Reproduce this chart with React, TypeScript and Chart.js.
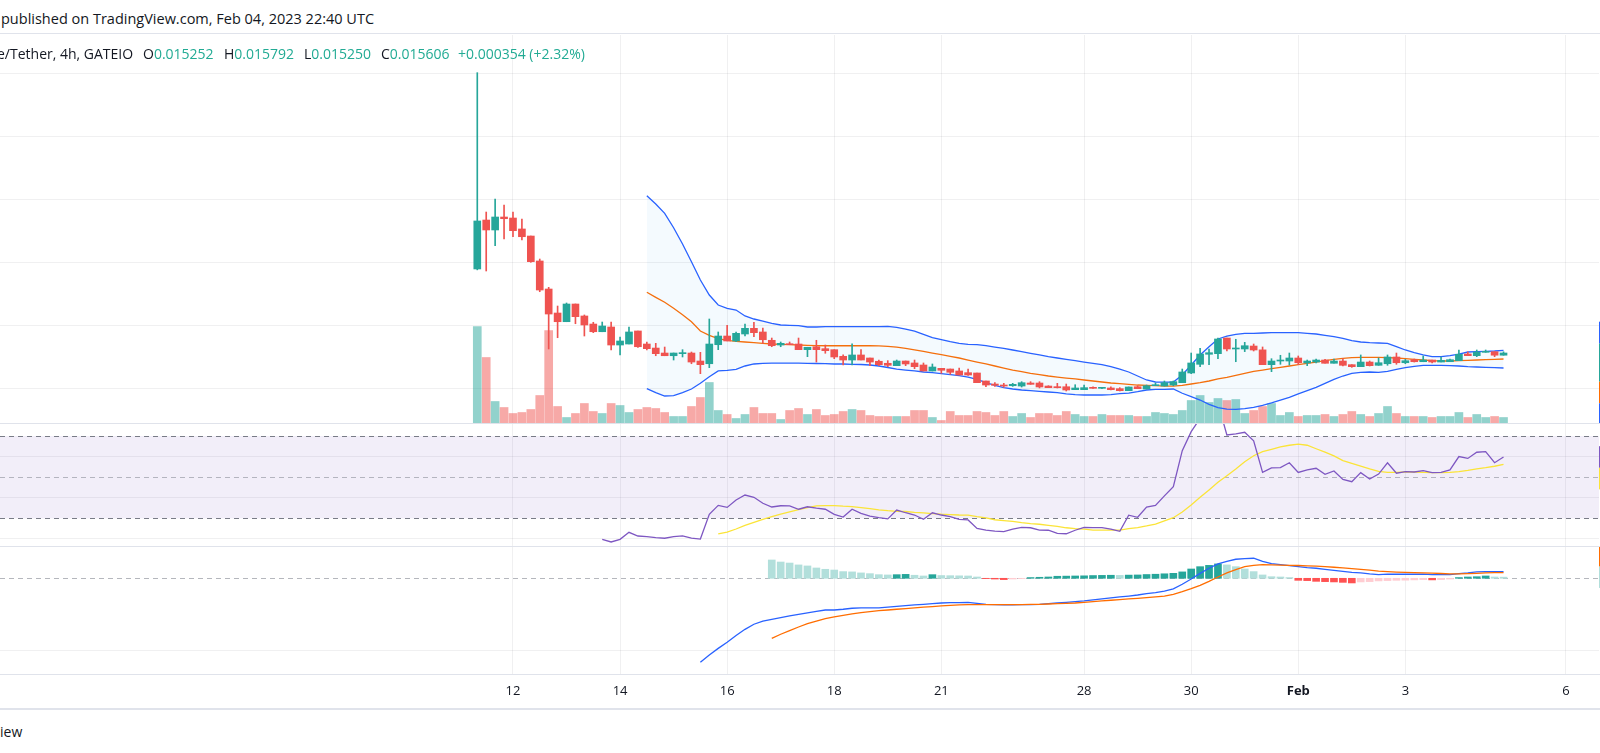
import React, { useEffect, useRef } from "react";
import { Chart, registerables } from "chart.js";

Chart.register(...registerables);

const FONT = "'Open Sans', Roboto, 'Noto Sans', sans-serif";
const TEXT = "#131722";
const UP = "#26a69a";
const DOWN = "#ef5350";
const GRID = "rgba(42,46,57,0.07)";
const SEP = "#e0e3eb";
const LINE_W = 1.3;
const MA_YELLOW = "#fbe438";

// ---------- price candles (4h bars, index 0 = first bar) ----------
const opens = [0.02894,0.03671,0.03513,0.03719,0.03703,0.03529,0.03417,0.03021,0.02576,0.02195,
0.02057,0.02338,0.02148,0.02020,0.01898,0.01973,0.01687,0.01703,0.01910,0.01703,
0.01639,0.01560,0.01517,0.01550,0.01560,0.01433,0.01390,0.01692,0.01830,0.01751,
0.01862,0.01952,0.01894,0.01762,0.01687,0.01703,0.01703,0.01613,0.01660,0.01629,
0.01613,0.01508,0.01449,0.01529,0.01481,0.01429,0.01397,0.01359,0.01433,0.01402,
0.01370,0.01275,0.01317,0.01306,0.01275,0.01248,0.01243,0.01116,0.01068,0.01052,
0.01041,0.01036,0.01084,0.01084,0.01036,0.01020,0.01025,0.00978,0.00978,0.01010,
0.01000,0.01005,0.00994,0.00962,0.01025,0.00989,0.01041,0.01036,0.01052,0.01089,
0.01243,0.01381,0.01540,0.01550,0.01798,0.01624,0.01624,0.01671,0.01610,0.01375,
0.01433,0.01433,0.01481,0.01402,0.01417,0.01449,0.01397,0.01433,0.01375,0.01343,
0.01417,0.01365,0.01390,0.01497,0.01406,0.01454,0.01422,0.01449,0.01417,0.01422,
0.01438,0.01545,0.01518,0.01571,0.01581,0.015252];

const highs = [0.06010,0.03798,0.04005,0.03910,0.03798,0.03687,0.03417,0.03052,0.02603,0.02306,
0.02354,0.02338,0.02164,0.02048,0.02052,0.02052,0.01814,0.01973,0.01910,0.01735,
0.01714,0.01655,0.01560,0.01613,0.01576,0.01571,0.02100,0.01894,0.02000,0.01894,
0.02020,0.02048,0.01957,0.01798,0.01735,0.01735,0.01798,0.01651,0.01762,0.01687,
0.01613,0.01533,0.01704,0.01613,0.01481,0.01449,0.01439,0.01449,0.01433,0.01449,
0.01402,0.01386,0.01317,0.01306,0.01322,0.01306,0.01243,0.01116,0.01089,0.01079,
0.01079,0.01105,0.01105,0.01105,0.01041,0.01079,0.01068,0.01057,0.01052,0.01025,
0.01016,0.01025,0.01010,0.01021,0.01041,0.01052,0.01084,0.01116,0.01116,0.01306,
0.01560,0.01635,0.01624,0.01798,0.01798,0.01778,0.01730,0.01703,0.01656,0.01470,
0.01524,0.01560,0.01513,0.01449,0.01465,0.01460,0.01465,0.01470,0.01375,0.01529,
0.01433,0.01481,0.01529,0.01560,0.01460,0.01465,0.01513,0.01449,0.01497,0.01465,
0.01608,0.01576,0.01608,0.01608,0.01581,0.015792];

const lows = [0.02880,0.02862,0.03263,0.03370,0.03406,0.03354,0.03000,0.02533,0.01624,0.01803,
0.02057,0.02025,0.01830,0.01883,0.01898,0.01608,0.01529,0.01703,0.01650,0.01608,
0.01517,0.01517,0.01449,0.01497,0.01390,0.01232,0.01327,0.01613,0.01751,0.01740,
0.01830,0.01819,0.01714,0.01660,0.01660,0.01692,0.01613,0.01502,0.01417,0.01556,
0.01470,0.01370,0.01370,0.01449,0.01359,0.01359,0.01343,0.01359,0.01359,0.01311,
0.01275,0.01275,0.01238,0.01222,0.01211,0.01206,0.01089,0.01025,0.01031,0.01016,
0.01031,0.01020,0.01063,0.01005,0.01010,0.01005,0.00957,0.00978,0.00978,0.01000,
0.00995,0.00973,0.00957,0.00962,0.00994,0.00989,0.01041,0.01036,0.01041,0.01089,
0.01232,0.01343,0.01375,0.01470,0.01592,0.01422,0.01582,0.01592,0.01375,0.01264,
0.01381,0.01370,0.01375,0.01359,0.01402,0.01397,0.01397,0.01354,0.01333,0.01343,
0.01354,0.01365,0.01365,0.01381,0.01390,0.01417,0.01422,0.01402,0.01417,0.01422,
0.01438,0.01518,0.01502,0.01571,0.01502,0.015250];

const closes = [0.03656,0.03513,0.03719,0.03692,0.03502,0.03406,0.03010,0.02560,0.02179,0.02057,
0.02338,0.02137,0.02005,0.01898,0.01989,0.01687,0.01751,0.01894,0.01660,0.01629,
0.01550,0.01517,0.01560,0.01560,0.01417,0.01375,0.01703,0.01830,0.01751,0.01873,
0.01952,0.01883,0.01771,0.01676,0.01714,0.01692,0.01613,0.01651,0.01613,0.01597,
0.01497,0.01449,0.01529,0.01449,0.01417,0.01375,0.01365,0.01433,0.01386,0.01343,
0.01275,0.01338,0.01286,0.01254,0.01211,0.01211,0.01089,0.01052,0.01048,0.01036,
0.01063,0.01089,0.01063,0.01021,0.01010,0.01010,0.00973,0.01005,0.01010,0.01000,
0.01010,0.00978,0.00962,0.01021,0.00994,0.01041,0.01057,0.01089,0.01105,0.01259,
0.01402,0.01545,0.01565,0.01783,0.01624,0.01635,0.01676,0.01608,0.01375,0.01433,
0.01449,0.01481,0.01406,0.01433,0.01449,0.01397,0.01433,0.01365,0.01343,0.01417,
0.01359,0.01406,0.01497,0.01406,0.01438,0.01422,0.01449,0.01417,0.01444,0.01454,
0.01540,0.01518,0.01576,0.01587,0.015252,0.015606];

// volume (thousands)
const volumes = [965,655,215,155,95,105,135,275,925,165,
55,95,195,115,95,195,175,105,135,155,
145,105,65,65,165,255,405,125,85,45,
85,155,95,95,35,125,145,85,135,75,
85,115,135,125,75,65,65,65,65,125,
125,55,25,115,75,75,115,105,75,115,
65,95,55,95,95,75,115,85,65,65,
85,75,75,75,65,65,105,95,85,125,
225,275,205,245,225,235,95,125,165,195,
75,105,65,75,75,85,65,85,115,85,
65,95,165,95,65,65,65,55,65,65,
105,55,85,55,65,55];

// ---------- Bollinger Bands (20, 2), first value at bar 19 ----------
const BB_START = 19;
const bbUpper = [0.04057,0.03925,0.03778,0.03549,0.03290,0.03010,0.02719,0.02481,0.02322,0.02270,
0.02243,0.02148,0.02100,0.02068,0.02032,0.02005,0.02000,0.01994,0.01973,0.01973,
0.01978,0.01978,0.01978,0.01978,0.01978,0.01978,0.01978,0.01984,0.01968,0.01941,
0.01906,0.01857,0.01806,0.01772,0.01740,0.01714,0.01698,0.01692,0.01676,0.01655,
0.01635,0.01608,0.01581,0.01556,0.01529,0.01502,0.01481,0.01460,0.01438,0.01417,
0.01397,0.01375,0.01343,0.01306,0.01259,0.01195,0.01132,0.01100,0.01097,0.01100,
0.01211,0.01370,0.01529,0.01660,0.01783,0.01830,0.01857,0.01873,0.01873,0.01878,
0.01883,0.01883,0.01883,0.01883,0.01873,0.01862,0.01841,0.01819,0.01794,0.01756,
0.01735,0.01724,0.01719,0.01714,0.01660,0.01608,0.01565,0.01529,0.01502,0.01502,
0.01517,0.01544,0.01576,0.01581,0.01587,0.01592,0.01603];
const bbBasis = [0.02524,0.02444,0.02365,0.02270,0.02168,0.02057,0.01910,0.01841,0.01787,0.01762,
0.01746,0.01735,0.01724,0.01714,0.01703,0.01698,0.01692,0.01687,0.01682,0.01676,
0.01675,0.01675,0.01675,0.01675,0.01675,0.01675,0.01672,0.01666,0.01652,0.01633,
0.01610,0.01587,0.01560,0.01533,0.01508,0.01481,0.01449,0.01417,0.01386,0.01354,
0.01322,0.01290,0.01264,0.01238,0.01216,0.01195,0.01179,0.01163,0.01148,0.01132,
0.01116,0.01100,0.01084,0.01073,0.01063,0.01052,0.01048,0.01041,0.01036,0.01036,
0.01048,0.01068,0.01089,0.01116,0.01148,0.01175,0.01206,0.01238,0.01270,0.01290,
0.01311,0.01333,0.01354,0.01375,0.01397,0.01417,0.01438,0.01460,0.01476,0.01486,
0.01492,0.01492,0.01492,0.01486,0.01481,0.01470,0.01460,0.01449,0.01438,0.01433,
0.01433,0.01438,0.01444,0.01449,0.01454,0.01460,0.01465];
const bbLower = [0.00994,0.00930,0.00878,0.00883,0.00930,0.00989,0.01079,0.01184,0.01275,0.01286,
0.01302,0.01354,0.01386,0.01397,0.01399,0.01399,0.01399,0.01399,0.01397,0.01394,
0.01392,0.01386,0.01386,0.01381,0.01378,0.01370,0.01354,0.01330,0.01306,0.01290,
0.01275,0.01259,0.01248,0.01232,0.01216,0.01200,0.01179,0.01140,0.01089,0.01048,
0.01010,0.00989,0.00973,0.00962,0.00952,0.00941,0.00930,0.00910,0.00899,0.00894,
0.00894,0.00894,0.00899,0.00915,0.00925,0.00946,0.00973,0.00984,0.00984,0.00989,
0.00921,0.00867,0.00814,0.00746,0.00692,0.00671,0.00667,0.00676,0.00698,0.00730,
0.00767,0.00814,0.00857,0.00910,0.00962,0.01016,0.01079,0.01143,0.01195,0.01238,
0.01254,0.01259,0.01254,0.01270,0.01302,0.01327,0.01349,0.01365,0.01365,0.01365,
0.01359,0.01354,0.01343,0.01338,0.01333,0.01327,0.01322];

// ---------- RSI (14) and its MA ----------
const RSI_START = 14;
const rsiValues = [19.8,18.5,19.8,23.2,21.4,21.1,20.6,20.3,21.1,21.5,
20.4,19.9,31.9,36.3,35.3,38.9,41.3,40.2,37.3,35.5,
36.1,36.0,34.4,35.6,34.9,34.4,31.9,30.6,34.4,32.4,
31.1,30.3,29.7,34.0,32.7,31.6,29.5,32.7,31.6,30.8,
29.5,29.2,25.1,24.3,23.8,23.5,24.7,25.6,25.4,24.3,
24.2,22.7,22.5,24.2,25.6,25.5,25.5,24.7,23.7,31.5,
30.5,35.5,36.3,40.9,45.4,62.9,72.1,78.6,80.5,86.0,
70.5,71.0,71.8,67.7,52.3,54.5,54.6,57.0,52.3,53.5,
54.3,51.4,53.0,48.9,47.8,52.2,49.1,51.5,57.0,51.9,
52.7,52.5,53.2,52.2,52.3,53.5,60.0,59.1,62.1,62.4,
57.0,59.8];
const RSI_MA_START = 27;
const rsiMa = [22.4,23.3,24.8,26.6,28.0,29.5,30.8,32.0,33.1,34.2,
35.2,36.0,36.2,36.2,35.9,35.7,35.2,34.7,34.1,33.7,
33.4,33.3,32.9,32.6,32.3,32.0,31.8,31.6,31.5,30.8,
30.2,29.3,28.9,28.5,27.9,27.4,27.1,26.6,26.1,25.4,
25.0,24.7,24.3,24.3,24.3,24.3,25.0,25.5,26.3,27.2,
28.7,30.3,33.1,36.5,40.2,43.8,47.5,50.7,54.0,57.5,
60.4,62.4,63.5,64.7,65.5,66.0,65.5,63.8,62.2,60.3,
58.0,56.7,55.4,54.0,52.8,52.3,52.3,52.5,52.5,52.3,
52.2,52.2,52.3,52.7,53.3,54.0,54.6,55.3,56.2];
const rsiLevels = [70, 50, 30];
const rsiGrid = [20, 40, 60];

// ---------- MACD (12, 26, 9) ----------
const MACD_START = 25;
const macdLine = [-0.00578,-0.00527,-0.00482,-0.00440,-0.00394,-0.00351,-0.00316,-0.00294,-0.00282,-0.00271,
-0.00259,-0.00248,-0.00238,-0.00227,-0.00218,-0.00218,-0.00213,-0.00206,-0.00204,-0.00204,
-0.00204,-0.00199,-0.00193,-0.00188,-0.00183,-0.00179,-0.00174,-0.00170,-0.00167,-0.00167,
-0.00165,-0.00172,-0.00179,-0.00181,-0.00183,-0.00183,-0.00181,-0.00181,-0.00179,-0.00174,
-0.00170,-0.00165,-0.00161,-0.00156,-0.00149,-0.00142,-0.00135,-0.00128,-0.00122,-0.00115,
-0.00105,-0.00099,-0.00089,-0.00073,-0.00041,-0.00005,0.00034,0.00069,0.00099,0.00117,
0.00131,0.00135,0.00138,0.00117,0.00101,0.00094,0.00087,0.00080,0.00073,0.00069,
0.00062,0.00055,0.00048,0.00041,0.00037,0.00030,0.00025,0.00028,0.00028,0.00028,
0.00028,0.00028,0.00025,0.00025,0.00025,0.00032,0.00037,0.00044,0.00046,0.00046,
0.00046];
const SIGNAL_START = 33;
const signalLine = [-0.00413,-0.00385,-0.00360,-0.00335,-0.00312,-0.00294,-0.00277,-0.00266,-0.00255,-0.00245,
-0.00236,-0.00229,-0.00222,-0.00218,-0.00213,-0.00209,-0.00204,-0.00199,-0.00195,-0.00190,
-0.00186,-0.00183,-0.00181,-0.00181,-0.00181,-0.00181,-0.00181,-0.00181,-0.00181,-0.00179,
-0.00179,-0.00177,-0.00174,-0.00172,-0.00170,-0.00165,-0.00161,-0.00156,-0.00151,-0.00147,
-0.00142,-0.00138,-0.00133,-0.00128,-0.00122,-0.00110,-0.00092,-0.00071,-0.00048,-0.00021,
0.00009,0.00037,0.00060,0.00080,0.00089,0.00094,0.00092,0.00090,0.00089,0.00088,
0.00086,0.00084,0.00080,0.00076,0.00071,0.00066,0.00061,0.00056,0.00050,0.00046,
0.00043,0.00041,0.00039,0.00037,0.00035,0.00033,0.00031,0.00030,0.00032,0.00034,
0.00037,0.00039,0.00039];
const histogram = [0.00126,0.00112,0.00105,0.00092,0.00085,0.00071,0.00062,0.00057,0.00046,0.00044,
0.00037,0.00032,0.00025,0.00023,0.00025,0.00027,0.00021,0.00016,0.00025,0.00019,
0.00018,0.00017,0.00016,0.00009,-0.00002,-0.00005,-0.00009,-0.00005,-0.00002,0.00005,
0.00007,0.00009,0.00014,0.00015,0.00016,0.00017,0.00019,0.00020,0.00021,0.00020,
0.00022,0.00023,0.00026,0.00028,0.00031,0.00034,0.00044,0.00064,0.00080,0.00089,
0.00099,0.00092,0.00080,0.00064,0.00046,0.00023,0.00011,0.00009,0.00005,-0.00014,
-0.00016,-0.00021,-0.00023,-0.00025,-0.00028,-0.00032,-0.00025,-0.00023,-0.00018,-0.00016,
-0.00014,-0.00013,-0.00011,-0.00009,-0.00011,-0.00009,-0.00005,0.00005,0.00009,0.00011,
0.00016,0.00009,0.00008];

// ---------- axes ----------
const xTickIndex = [4, 16, 28, 40, 52, 68, 80, 92, 104, 122];
const xTickLabels = ["12", "14", "16", "18", "21", "28", "30", "Feb", "3", "6"];
const priceGrid = [0.01, 0.02, 0.03, 0.04, 0.05, 0.06];
const macdGrid = [-0.005];

const X_MIN = -53.485;
const X_MAX = 125.7;
const PRICE_MIN = 0.004492;
const PRICE_MAX = 0.066079;
const VOL_MAX = 3880;
const RSI_MIN = 16.54;
const RSI_MAX = 75.83;
const MACD_MIN = -0.006584;
const MACD_MAX = 0.002153;

const idx = opens.map((_, i) => i);
const isUp = idx.map((i) => closes[i] >= opens[i]);
const series = (arr: number[], start: number) => arr.map((v, k) => ({ x: start + k, y: v }));
const lastOf = (arr: number[]) => arr[arr.length - 1];

function xScale(showLabels: boolean): any {
  return {
    type: "linear",
    position: "bottom",
    min: X_MIN,
    max: X_MAX,
    bounds: "data",
    offset: false,
    grid: { color: GRID, lineWidth: 1, drawTicks: false, offset: false },
    border: { display: showLabels, color: SEP },
    afterBuildTicks: (s: any) => {
      s.ticks = xTickIndex.map((v) => ({ value: v }));
    },
    afterFit: (s: any) => {
      s.height = showLabels ? 34 : 0;
    },
    ticks: {
      display: showLabels,
      autoSkip: false,
      maxRotation: 0,
      minRotation: 0,
      padding: 9,
      color: TEXT,
      font: (ctx: any) => ({
        family: FONT,
        size: 13,
        weight: xTickLabels[ctx.index] === "Feb" ? "bold" : "normal",
      }),
      callback: (_v: any, i: number) => xTickLabels[i] ?? "",
    },
  };
}

function yGridScale(min: number, max: number, gridVals: number[]): any {
  return {
    type: "linear",
    position: "right",
    min,
    max,
    bounds: "data",
    grid: { color: GRID, lineWidth: 1, drawTicks: false },
    border: { display: false },
    ticks: { display: false },
    afterBuildTicks: (s: any) => {
      s.ticks = gridVals.map((v) => ({ value: v }));
    },
    afterFit: (s: any) => {
      s.width = 0;
    },
  };
}

const baseOptions = {
  responsive: false,
  animation: false,
  events: [],
  layout: { padding: { left: 0, top: 0, bottom: 0, right: 1 } },
  plugins: { legend: { display: false }, tooltip: { enabled: false } },
};

// price-scale value labels: first label anchored at its value, later ones pushed away from it
type LastLabel = { value: number; color: string; h?: number; anchor?: number };
function lastValueLabels(labels: LastLabel[]) {
  return {
    id: "lastValueLabels",
    afterDraw(chart: any) {
      const { ctx, chartArea: a, scales, width } = chart;
      const y = scales.y;
      const placed: { top: number; bottom: number }[] = [];
      const first = labels[0];
      labels.forEach((lb, k) => {
        const h = lb.h ?? 21.6;
        let top = y.getPixelForValue(lb.value) - (lb.anchor ?? h / 2);
        if (k > 0) {
          const up = lb.value >= first.value;
          for (let it = 0; it < 10; it++) {
            const hit = placed.find((p) => top < p.bottom - 0.01 && top + h > p.top + 0.01);
            if (!hit) break;
            top = up ? hit.top - h : hit.bottom;
          }
        }
        placed.push({ top, bottom: top + h });
        ctx.save();
        ctx.fillStyle = lb.color;
        ctx.fillRect(a.right, top, width - a.right + 80, h);
        ctx.restore();
      });
    },
  };
}

const rsiBandPlugin = {
  id: "rsiBand",
  beforeDatasetsDraw(chart: any) {
    const { ctx, chartArea: a, scales } = chart;
    const y = scales.y;
    const yTop = y.getPixelForValue(rsiLevels[0]);
    const yBot = y.getPixelForValue(rsiLevels[2]);
    ctx.save();
    ctx.fillStyle = "rgba(126,87,194,0.1)";
    ctx.fillRect(a.left, yTop, a.right - a.left, yBot - yTop);
    ctx.lineWidth = 1;
    ctx.setLineDash([5, 4]);
    rsiLevels.forEach((lv, k) => {
      const py = Math.round(y.getPixelForValue(lv)) + 0.5;
      ctx.strokeStyle = k === 1 ? "rgba(120,123,134,0.5)" : "#787b86";
      ctx.beginPath();
      ctx.moveTo(a.left, py);
      ctx.lineTo(a.right, py);
      ctx.stroke();
    });
    ctx.restore();
  },
};

const zeroLinePlugin = {
  id: "zeroLine",
  beforeDatasetsDraw(chart: any) {
    const { ctx, chartArea: a, scales } = chart;
    const py = Math.round(scales.y.getPixelForValue(0)) + 0.5;
    ctx.save();
    ctx.strokeStyle = "rgba(120,123,134,0.55)";
    ctx.lineWidth = 1;
    ctx.setLineDash([5, 4]);
    ctx.beginPath();
    ctx.moveTo(a.left, py);
    ctx.lineTo(a.right, py);
    ctx.stroke();
    ctx.restore();
  },
};

const histColors = histogram.map((h, k) => {
  const prev = k > 0 ? histogram[k - 1] : Infinity;
  if (h >= 0) return h > prev ? "#26a69a" : "#b2dfdb";
  return h > prev ? "#ffcdd2" : "#ff5252";
});

function lineDs(label: string, data: any[], color: string, order: number, extra: any = {}) {
  return {
    type: "line",
    label,
    data,
    borderColor: color,
    borderWidth: LINE_W,
    pointRadius: 0,
    tension: 0,
    fill: false,
    order,
    ...extra,
  };
}

export default function App() {
  const mainRef = useRef<HTMLCanvasElement>(null);
  const rsiRef = useRef<HTMLCanvasElement>(null);
  const macdRef = useRef<HTMLCanvasElement>(null);

  useEffect(() => {
    const candleColors = idx.map((i) => (isUp[i] ? UP : DOWN));
    const volColors = idx.map((i) => (isUp[i] ? "rgba(38,166,154,0.5)" : "rgba(239,83,80,0.5)"));
    const lastI = opens.length - 1;

    const main = new Chart(mainRef.current as any, {
      type: "bar",
      data: {
        datasets: [
          {
            type: "bar",
            label: "body",
            data: idx.map((i) => ({ x: i, y: [opens[i], closes[i]] })),
            backgroundColor: candleColors,
            borderWidth: 0,
            barThickness: 7,
            minBarLength: 1,
            grouped: false,
            order: 1,
          },
          {
            type: "bar",
            label: "wick",
            data: idx.map((i) => ({ x: i, y: [lows[i], highs[i]] })),
            backgroundColor: candleColors,
            borderWidth: 0,
            barThickness: 1,
            grouped: false,
            order: 2,
          },
          lineDs("BB upper", series(bbUpper, BB_START), "#2962ff", 3, {
            fill: "+2",
            backgroundColor: "rgba(33,150,243,0.05)",
          }),
          lineDs("BB basis", series(bbBasis, BB_START), "#ff6d00", 3),
          lineDs("BB lower", series(bbLower, BB_START), "#2962ff", 3),
          {
            type: "bar",
            label: "volume",
            data: idx.map((i) => ({ x: i, y: volumes[i] })),
            backgroundColor: volColors,
            borderWidth: 0,
            barThickness: 8,
            grouped: false,
            yAxisID: "yv",
            order: 5,
          },
        ],
      } as any,
      options: {
        ...baseOptions,
        scales: {
          x: xScale(false),
          y: yGridScale(PRICE_MIN, PRICE_MAX, priceGrid),
          yv: { type: "linear", display: false, min: 0, max: VOL_MAX },
        },
      } as any,
      plugins: [
        lastValueLabels([
          { value: closes[lastI], color: isUp[lastI] ? UP : DOWN, h: 38.4, anchor: 9.7 },
          { value: lastOf(bbUpper), color: "#2962ff" },
          { value: lastOf(bbBasis), color: "#ff6d00" },
          { value: lastOf(bbLower), color: "#2962ff" },
        ]),
      ],
    });

    const rsi = new Chart(rsiRef.current as any, {
      type: "line",
      data: {
        datasets: [
          lineDs("RSI", series(rsiValues, RSI_START), "#7e57c2", 1),
          lineDs("RSI MA", series(rsiMa, RSI_MA_START), MA_YELLOW, 2),
        ],
      } as any,
      options: {
        ...baseOptions,
        scales: {
          x: xScale(false),
          y: yGridScale(RSI_MIN, RSI_MAX, rsiGrid),
        },
      } as any,
      plugins: [
        rsiBandPlugin,
        lastValueLabels([
          { value: lastOf(rsiValues), color: "#7e57c2" },
          { value: lastOf(rsiMa), color: MA_YELLOW },
        ]),
      ],
    });

    const macd = new Chart(macdRef.current as any, {
      type: "bar",
      data: {
        datasets: [
          lineDs("MACD", series(macdLine, MACD_START), "#2962ff", 2),
          lineDs("Signal", series(signalLine, SIGNAL_START), "#ff6d00", 1),
          {
            type: "bar",
            label: "Histogram",
            data: series(histogram, SIGNAL_START),
            backgroundColor: histColors,
            borderWidth: 0,
            barThickness: 7,
            grouped: false,
            order: 3,
          },
        ],
      } as any,
      options: {
        ...baseOptions,
        scales: {
          x: xScale(true),
          y: yGridScale(MACD_MIN, MACD_MAX, macdGrid),
        },
      } as any,
      plugins: [
        zeroLinePlugin,
        lastValueLabels([
          { value: lastOf(histogram), color: lastOf(histColors) },
          { value: lastOf(signalLine), color: "#ff6d00" },
          { value: lastOf(macdLine), color: "#2962ff" },
        ]),
      ],
    });

    return () => {
      main.destroy();
      rsi.destroy();
      macd.destroy();
    };
  }, []);

  const last = opens.length - 1;
  const chg = closes[last] - closes[last - 1];
  const pct = (chg / closes[last - 1]) * 100;
  const green = "#22ab94";
  const legendItems = [
    { left: 143, k: "O", v: opens[last].toFixed(6) },
    { left: 224, k: "H", v: highs[last].toFixed(6) },
    { left: 304, k: "L", v: lows[last].toFixed(6) },
    { left: 381, k: "C", v: closes[last].toFixed(6) },
  ];

  const abs = (s: any) => ({ position: "absolute" as const, ...s });

  return (
    <div
      style={{
        position: "fixed",
        left: 0,
        top: 0,
        width: 1600,
        height: 753,
        background: "#ffffff",
        overflow: "hidden",
        fontFamily: FONT,
        color: TEXT,
      }}
    >
      <div style={abs({ left: 1, top: 9, fontSize: 14.5, lineHeight: "20px", whiteSpace: "nowrap" })}>
        published on TradingView.com, Feb 04, 2023 22:40 UTC
      </div>
      <div style={abs({ left: 0, top: 33, width: 1600, height: 1, background: SEP })} />

      <canvas ref={mainRef} width={1600} height={388} style={abs({ left: 0, top: 35, width: 1600, height: 388 })} />

      <div style={abs({ left: 0, top: 44, height: 20, width: 700, fontSize: 14, lineHeight: "20px", whiteSpace: "nowrap" })}>
        <span style={abs({ left: -3, top: 0 })}>e/Tether, 4h, GATEIO</span>
        {legendItems.map((it) => (
          <span key={it.k} style={abs({ left: it.left, top: 0 })}>
            {it.k}
            <span style={{ color: green }}>{it.v}</span>
          </span>
        ))}
        <span style={abs({ left: 458, top: 0, color: green })}>
          {(chg >= 0 ? "+" : "") + chg.toFixed(6)} ({(pct >= 0 ? "+" : "") + pct.toFixed(2)}%)
        </span>
      </div>

      <div style={abs({ left: 0, top: 423, width: 1600, height: 1, background: SEP })} />
      <canvas ref={rsiRef} width={1600} height={122} style={abs({ left: 0, top: 424, width: 1600, height: 122 })} />
      <div style={abs({ left: 0, top: 546, width: 1600, height: 1, background: SEP })} />
      <canvas ref={macdRef} width={1600} height={161} style={abs({ left: 0, top: 547, width: 1600, height: 161 })} />
      <div style={abs({ left: 0, top: 708, width: 1600, height: 2, background: SEP })} />

      <div style={abs({ left: 0, top: 722, fontSize: 14, lineHeight: "20px", whiteSpace: "nowrap" })}>iew</div>
    </div>
  );
}
